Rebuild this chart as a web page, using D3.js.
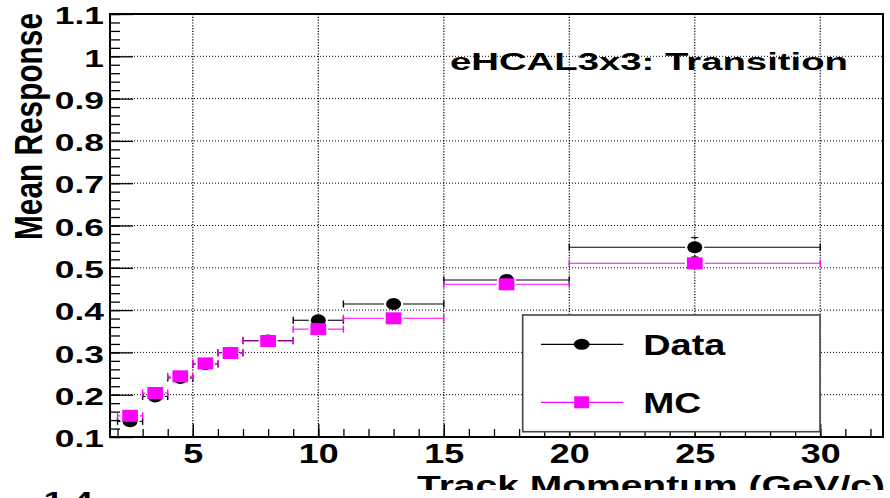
<!DOCTYPE html>
<html>
<head>
<meta charset="utf-8">
<script src="https://cdn.jsdelivr.net/npm/d3@7"></script>
<style>
  html, body { margin: 0; padding: 0; background: #fff; }
  svg { display: block; }
  text { font-family: "Liberation Sans", Arial, Helvetica, sans-serif; font-weight: bold; fill: #000; }
</style>
</head>
<body>
<svg id="chart" width="890" height="498"></svg>
<script>
// Momentum bins (GeV/c): centre, lower and upper edge
const binMid = [2.5, 3.5, 4.5, 5.5, 6.5, 8, 10, 13, 17.5, 25];
const binLo  = [2, 3, 4, 5, 6, 7, 9, 11, 15, 20];
const binHi  = [3, 4, 5, 6, 7, 9, 11, 15, 20, 30];

// Mean response, data
const dataResp = [0.137, 0.196, 0.2395, 0.2726, 0.299, 0.328, 0.376, 0.4144, 0.4712, 0.5485];
const dataErr  = [0.003, 0.003, 0.003, 0.003, 0.003, 0.003, 0.004, 0.004, 0.005, 0.023];

// Mean response, simulation
const mcResp = [0.150, 0.204, 0.2435, 0.274, 0.2986, 0.327, 0.355, 0.3806, 0.461, 0.5106];
const mcErr  = [0.002, 0.002, 0.002, 0.002, 0.002, 0.002, 0.002, 0.003, 0.003, 0.004];

// Axis ticks and labels
const xMajor = [5, 10, 15, 20, 25, 30];
const xMinor = d3.range(2, 33);
const yMajor = [0.1, 0.2, 0.3, 0.4, 0.5, 0.6, 0.7, 0.8, 0.9, 1.0, 1.1];
const yMajorLabels = ["0.1", "0.2", "0.3", "0.4", "0.5", "0.6", "0.7", "0.8", "0.9", "1", "1.1"];
const yMinor = d3.range(0, 51).map(i => 0.1 + i * 0.02);

const titleText = "eHCAL3x3: Transition";
const xTitle = "Track Momentum (GeV/c)";
const yTitle = "Mean Response";
const legendLabels = ["Data", "MC"];

const svg = d3.select("#chart");
const frame = { left: 110, right: 883, top: 14, bottom: 437 };

const x = d3.scaleLinear().domain([1.7, 32.5]).range([frame.left, frame.right]);
const y = d3.scaleLinear().domain([0.1, 1.1]).range([frame.bottom, frame.top]);

const MAGENTA = "#ff00ff";

// dotted grid at major ticks
const grid = svg.append("g");
grid.selectAll("line.vx").data(xMajor).join("line")
  .attr("x1", d => x(d)).attr("x2", d => x(d))
  .attr("y1", frame.top).attr("y2", frame.bottom)
  .attr("stroke", "#000").attr("stroke-width", 1.2).attr("stroke-dasharray", "1.2 1.6");
grid.selectAll("line.hy").data(yMajor.slice(1, -1)).join("line")
  .attr("x1", frame.left).attr("x2", frame.right)
  .attr("y1", d => y(d)).attr("y2", d => y(d))
  .attr("stroke", "#000").attr("stroke-width", 1).attr("stroke-dasharray", "1 2");

// x axis (ticks point inward)
const xAxisMinor = svg.append("g").attr("transform", `translate(0,${frame.bottom})`)
  .call(d3.axisBottom(x).tickValues(xMinor).tickSize(-8).tickSizeOuter(0).tickFormat(""));
const xAxisMajor = svg.append("g").attr("transform", `translate(0,${frame.bottom})`)
  .call(d3.axisBottom(x).tickValues(xMajor).tickSize(-13).tickSizeOuter(0).tickFormat(d3.format("d")));
[xAxisMinor, xAxisMajor].forEach(g => {
  g.select(".domain").remove();
  g.selectAll(".tick line").attr("stroke", "#000").attr("stroke-width", 1.3);
});
xAxisMajor.selectAll(".tick text")
  .attr("y", 26.5).attr("dy", null)
  .attr("font-size", 27).attr("font-weight", "bold")
  .attr("font-family", '"Liberation Sans", Arial, sans-serif')
  .attr("transform", "scale(1.33,1)");

// y axis
const yAxisMinor = svg.append("g").attr("transform", `translate(${frame.left},0)`)
  .call(d3.axisLeft(y).tickValues(yMinor).tickSize(-10).tickSizeOuter(0).tickFormat(""));
const yAxisMajor = svg.append("g").attr("transform", `translate(${frame.left},0)`)
  .call(d3.axisLeft(y).tickValues(yMajor).tickSize(-23).tickSizeOuter(0)
    .tickFormat((d, i) => yMajorLabels[i]));
[yAxisMinor, yAxisMajor].forEach(g => {
  g.select(".domain").remove();
  g.selectAll(".tick line").attr("stroke", "#000").attr("stroke-width", 1.3);
});
yAxisMajor.selectAll(".tick text")
  .attr("x", -6 / 1.45).attr("dy", "0.4em")
  .attr("font-size", 24.4).attr("font-weight", "bold")
  .attr("font-family", '"Liberation Sans", Arial, sans-serif')
  .attr("transform", "scale(1.45,1)");

// frame
svg.append("rect")
  .attr("x", frame.left).attr("y", frame.top)
  .attr("width", frame.right - frame.left).attr("height", frame.bottom - frame.top)
  .attr("fill", "none").attr("stroke", "#000").attr("stroke-width", 2);

// histogram points with error bars
function drawSeries(values, errs, color, marker, mw, mh) {
  const g = svg.append("g");
  binMid.forEach((m, i) => {
    const cx = x(m), cy = y(values[i]);
    const xl = x(binLo[i]), xr = x(binHi[i]);
    const gap = mw / 2 + 2;
    if (cx - gap > xl) g.append("line").attr("x1", xl).attr("x2", cx - gap).attr("y1", cy).attr("y2", cy)
      .attr("stroke", color).attr("stroke-width", 1.1);
    if (cx + gap < xr) g.append("line").attr("x1", cx + gap).attr("x2", xr).attr("y1", cy).attr("y2", cy)
      .attr("stroke", color).attr("stroke-width", 1.1);
    [xl, xr].forEach(ex => g.append("line").attr("x1", ex).attr("x2", ex)
      .attr("y1", cy - 3.5).attr("y2", cy + 3.5).attr("stroke", color).attr("stroke-width", 1.4));
    const ep = Math.abs(y(values[i] + errs[i]) - cy);
    const vgap = mh / 2 + 2;
    if (ep > vgap) {
      [-1, 1].forEach(s => {
        g.append("line").attr("x1", cx).attr("x2", cx)
          .attr("y1", cy + s * vgap).attr("y2", cy + s * ep)
          .attr("stroke", color).attr("stroke-width", 1.1);
        g.append("line").attr("x1", cx - 3.5).attr("x2", cx + 3.5)
          .attr("y1", cy + s * ep).attr("y2", cy + s * ep)
          .attr("stroke", color).attr("stroke-width", 1.2);
      });
    }
    if (marker === "circle") {
      g.append("ellipse").attr("cx", cx).attr("cy", cy).attr("rx", mw / 2).attr("ry", mh / 2).attr("fill", color);
    } else {
      g.append("rect").attr("x", cx - mw / 2).attr("y", cy - mh / 2).attr("width", mw).attr("height", mh).attr("fill", color);
    }
  });
}
drawSeries(dataResp, dataErr, "#000", "circle", 15, 12);
drawSeries(mcResp, mcErr, MAGENTA, "square", 15.7, 12);

// plot title
svg.append("text")
  .attr("x", 450).attr("y", 70)
  .attr("font-size", 24.7)
  .attr("textLength", 398).attr("lengthAdjust", "spacingAndGlyphs")
  .text(titleText);

// legend
const leg = svg.append("g");
leg.append("rect").attr("x", 522.7).attr("y", 315).attr("width", 297.3).attr("height", 116.7)
  .attr("fill", "#fff").attr("stroke", "#444").attr("stroke-width", 1.6);
const legRows = [
  { label: legendLabels[0], color: "#000", marker: "circle", ly: 344.3, by: 355 },
  { label: legendLabels[1], color: MAGENTA, marker: "square", ly: 402.3, by: 413.3 }
];
legRows.forEach(r => {
  leg.append("line").attr("x1", 541).attr("x2", 623.3).attr("y1", r.ly).attr("y2", r.ly)
    .attr("stroke", r.color).attr("stroke-width", 1.2);
  if (r.marker === "circle") {
    leg.append("ellipse").attr("cx", 581.7).attr("cy", r.ly).attr("rx", 8).attr("ry", 5.5).attr("fill", r.color);
  } else {
    leg.append("rect").attr("x", 581.7 - 7.5).attr("y", r.ly - 6).attr("width", 15).attr("height", 12).attr("fill", r.color);
  }
  leg.append("text").attr("x", 643.3).attr("y", r.by)
    .attr("font-size", 30.3)
    .attr("textLength", r.label === "Data" ? 82 : 58).attr("lengthAdjust", "spacingAndGlyphs")
    .text(r.label);
});

// axis titles; the pad ends just below the x title
svg.append("clipPath").attr("id", "padClip")
  .append("rect").attr("x", 0).attr("y", 0).attr("width", 890).attr("height", 490);
svg.append("text")
  .attr("clip-path", "url(#padClip)")
  .attr("x", 417).attr("y", 495)
  .attr("font-size", 28)
  .attr("textLength", 468).attr("lengthAdjust", "spacingAndGlyphs")
  .text(xTitle);

svg.append("g").attr("transform", "translate(41.7,240) scale(1.41,1)")
  .append("text")
  .attr("transform", "rotate(-90)")
  .attr("x", 0).attr("y", 0)
  .attr("font-size", 28)
  .attr("textLength", 227).attr("lengthAdjust", "spacingAndGlyphs")
  .text(yTitle);

// top of the neighbouring pad's axis label
svg.append("clipPath").attr("id", "lowerPad")
  .append("rect").attr("x", 0).attr("y", 490).attr("width", 890).attr("height", 8);
svg.append("g").attr("clip-path", "url(#lowerPad)")
  .append("g").attr("transform", "translate(93,509) scale(1.45,1)")
  .append("text").attr("text-anchor", "end").attr("font-size", 24.4).text("1.4");
</script>
</body>
</html>
